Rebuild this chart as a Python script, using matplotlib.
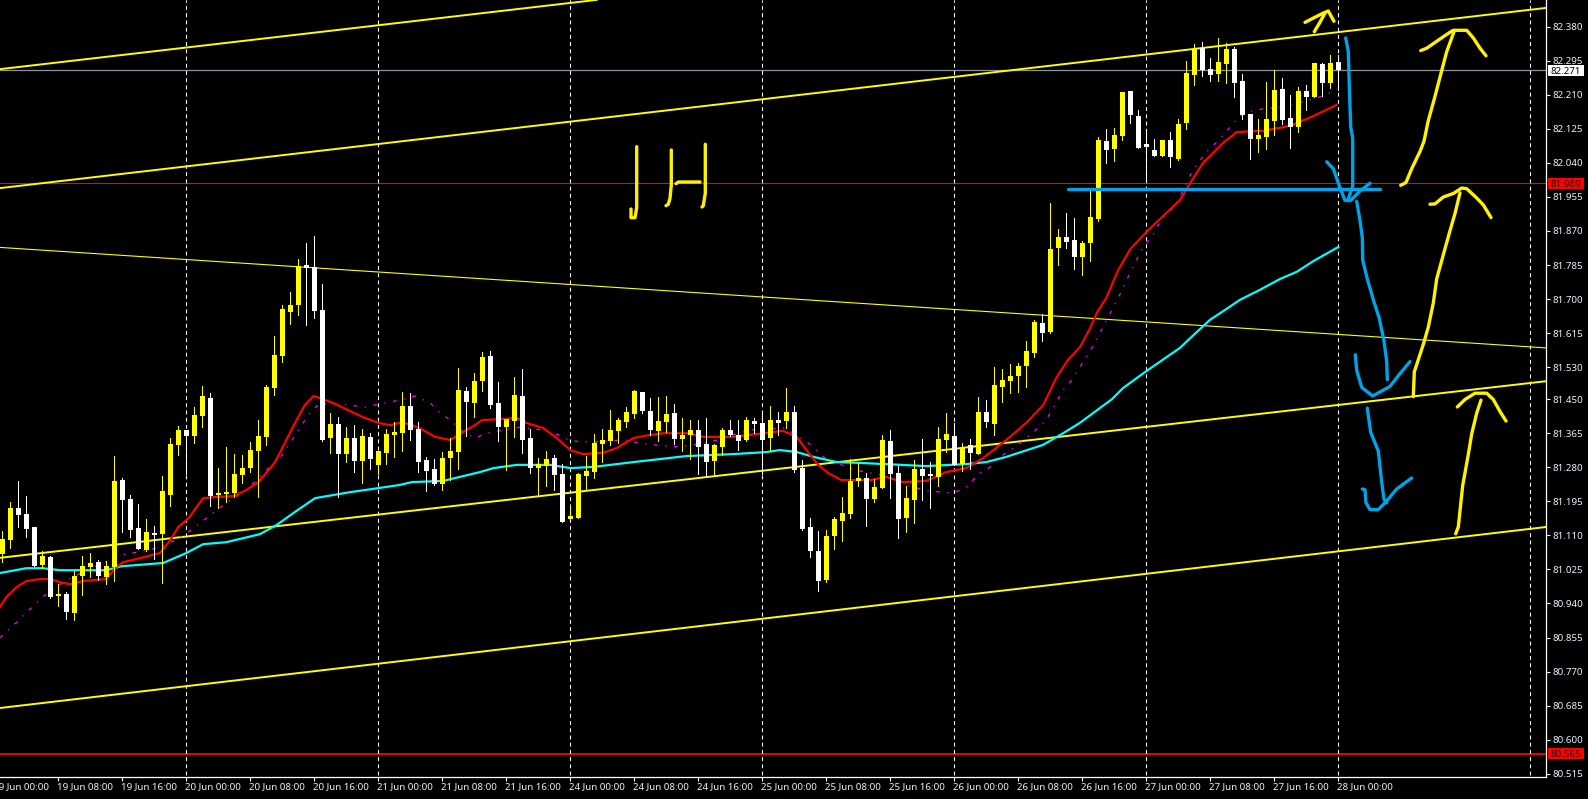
import matplotlib
matplotlib.use("Agg")
import matplotlib.pyplot as plt
from matplotlib.patches import Rectangle
from matplotlib.transforms import blended_transform_factory

plt.rcParams['font.family'] = ['Noto Sans', 'DejaVu Sans']

# ---- candles (H1), one entry per bar ----
open_ = [81.063,81.098,81.178,81.163,81.131,81.036,81.056,80.958,80.963,80.916,81.008,81.031,81.043,81.006,81.031,81.248,81.201,81.128,81.073,81.116,
81.113,81.211,81.336,81.373,81.358,81.408,81.453,81.211,81.213,81.216,81.261,81.278,81.321,81.356,81.478,81.558,81.668,81.685,81.785,81.780,
81.673,81.353,81.388,81.313,81.353,81.296,81.356,81.286,81.316,81.361,81.365,81.433,81.375,81.298,81.276,81.238,81.303,81.318,81.470,81.440,
81.495,81.558,81.440,81.380,81.395,81.458,81.353,81.278,81.283,81.303,81.263,81.151,81.153,81.258,81.268,81.338,81.346,81.371,81.393,81.413,
81.468,81.420,81.371,81.393,81.415,81.351,81.361,81.373,81.338,81.296,81.331,81.373,81.361,81.348,81.395,81.391,81.353,81.398,81.395,81.418,
81.278,81.131,81.071,80.998,81.108,81.146,81.163,81.246,81.253,81.201,81.228,81.346,81.266,81.153,81.198,81.276,81.263,81.256,81.348,81.358,
81.288,81.336,81.313,81.418,81.388,81.480,81.495,81.508,81.533,81.565,81.640,81.618,81.827,81.855,81.847,81.805,81.840,81.900,82.095,82.075,
82.107,82.219,82.157,82.087,82.072,82.057,82.097,82.050,82.140,82.259,82.327,82.274,82.262,82.287,82.324,82.244,82.162,82.100,82.105,82.145,
82.224,82.152,82.130,82.219,82.204,82.287,82.240,82.292]
high_ = [81.121,81.193,81.246,81.208,81.131,81.071,81.058,80.988,80.969,81.021,81.058,81.066,81.048,81.046,81.308,81.253,81.211,81.188,81.151,81.133,
81.258,81.353,81.383,81.373,81.430,81.483,81.465,81.278,81.331,81.313,81.311,81.343,81.398,81.485,81.608,81.685,81.718,81.800,81.840,81.857,
81.738,81.415,81.405,81.380,81.385,81.375,81.365,81.321,81.375,81.393,81.468,81.465,81.393,81.306,81.301,81.318,81.353,81.528,81.480,81.515,
81.568,81.570,81.493,81.400,81.505,81.525,81.375,81.303,81.321,81.311,81.288,81.186,81.266,81.308,81.363,81.375,81.423,81.403,81.430,81.473,
81.468,81.453,81.455,81.458,81.438,81.403,81.398,81.398,81.403,81.338,81.378,81.398,81.398,81.405,81.403,81.413,81.433,81.418,81.478,81.433,
81.298,81.153,81.121,81.123,81.156,81.206,81.301,81.291,81.266,81.251,81.361,81.373,81.283,81.233,81.298,81.351,81.293,81.380,81.415,81.391,
81.341,81.351,81.455,81.448,81.530,81.525,81.538,81.540,81.595,81.648,81.663,81.940,81.875,81.915,81.902,81.845,81.972,82.105,82.125,82.127,
82.217,82.219,82.172,82.122,82.100,82.097,82.117,82.150,82.294,82.337,82.342,82.302,82.352,82.339,82.329,82.262,82.162,82.150,82.242,82.272,
82.252,82.209,82.229,82.235,82.289,82.289,82.309,82.309]
low_ = [81.043,81.078,81.131,81.106,81.033,81.028,80.954,80.934,80.901,80.899,80.961,81.006,80.998,80.988,80.996,81.118,81.106,81.076,81.071,81.051,
80.991,81.183,81.311,81.263,81.341,81.380,81.183,81.178,81.193,81.206,81.241,81.268,81.206,81.336,81.460,81.543,81.638,81.660,81.635,81.653,
81.346,81.316,81.206,81.293,81.268,81.241,81.276,81.263,81.288,81.306,81.321,81.348,81.268,81.221,81.236,81.223,81.248,81.276,81.358,81.405,
81.470,81.428,81.346,81.273,81.356,81.316,81.266,81.211,81.233,81.223,81.143,81.151,81.153,81.226,81.253,81.293,81.336,81.341,81.380,81.403,
81.415,81.361,81.346,81.368,81.338,81.321,81.301,81.263,81.258,81.261,81.311,81.358,81.323,81.346,81.365,81.263,81.321,81.361,81.378,81.268,
81.123,81.056,80.971,80.993,81.076,81.096,81.153,81.233,81.133,81.193,81.228,81.203,81.103,81.118,81.141,81.198,81.178,81.233,81.318,81.286,
81.271,81.276,81.313,81.380,81.361,81.443,81.465,81.468,81.480,81.555,81.595,81.615,81.785,81.827,81.775,81.760,81.795,81.895,82.040,82.045,
82.097,82.140,82.077,81.997,82.057,82.057,82.030,82.047,82.125,82.235,82.257,82.244,82.244,82.240,82.204,82.150,82.050,82.067,82.075,82.110,
82.137,82.077,82.117,82.172,82.204,82.207,82.227,82.222]
close_ = [81.101,81.178,81.161,81.126,81.033,81.058,80.956,80.963,80.919,81.008,81.033,81.041,81.008,81.033,81.246,81.198,81.123,81.076,81.118,81.111,
81.221,81.338,81.373,81.358,81.410,81.458,81.208,81.216,81.218,81.263,81.278,81.323,81.358,81.480,81.560,81.675,81.685,81.783,81.778,81.670,
81.348,81.388,81.313,81.353,81.296,81.358,81.301,81.321,81.363,81.368,81.433,81.373,81.293,81.271,81.238,81.303,81.321,81.473,81.443,81.495,
81.555,81.435,81.380,81.400,81.460,81.348,81.278,81.288,81.301,81.261,81.143,81.158,81.263,81.271,81.341,81.348,81.373,81.398,81.418,81.470,
81.420,81.373,81.395,81.413,81.351,81.361,81.373,81.331,81.293,81.336,81.373,81.361,81.346,81.398,81.388,81.348,81.398,81.391,81.418,81.273,
81.126,81.071,80.996,81.108,81.151,81.166,81.246,81.253,81.201,81.231,81.348,81.263,81.151,81.203,81.276,81.258,81.258,81.351,81.363,81.286,
81.331,81.316,81.418,81.393,81.485,81.498,81.508,81.533,81.570,81.643,81.615,81.825,81.855,81.842,81.805,81.840,81.905,82.097,82.072,82.110,
82.217,82.160,82.077,82.080,82.057,82.097,82.055,82.137,82.264,82.324,82.272,82.259,82.292,82.324,82.240,82.160,82.100,82.110,82.150,82.222,
82.147,82.130,82.219,82.204,82.289,82.240,82.289,82.271]

# ---- moving averages: bar index, price ----
red_k = [-0.3,0.5,1.8,3,4.7,6,7.2,8.5,10.1,13,14.1,15.1,17.2,19.7,21,22,23.3,25.1,26.8,28.9,30.5,32,33.5,34.1,35.5,36.6,37.8,38.9,39.7,41.4,43.5,45.1,47,48.5,49.7,
50.9,52.6,54.1,56,57.6,58.9,60,62.2,64.3,65.5,67.6,69.3,71,72.6,75.1,76.8,78.9,80.1,82.6,85.5,87.6,91.4,94.3,97.6,
99.3,100.7,102,103.2,104.9,108.5,110.5,112.6,115.5,118,120.5,122.6,125.5,128,130.1,131.8,133.2,134.7,136,136.8,138,139.5,
141,143,145.5,147.2,148.5,150.1,152.6,154.3,157.6,160.9,163.9,166.8]
red_p = [80.931,80.956,80.981,80.996,81.001,81.001,80.993,80.988,80.996,81.001,81.028,81.043,81.053,81.066,81.098,81.131,81.153,81.203,81.206,81.208,81.223,81.243,81.278,81.293,81.348,81.391,81.435,81.458,81.453,81.440,81.420,81.405,81.391,81.385,81.391,
81.388,81.373,81.356,81.348,81.368,81.383,81.398,81.400,81.403,81.391,81.378,81.353,81.323,81.313,81.316,81.328,81.353,81.358,81.365,81.365,81.356,81.356,81.363,81.371,
81.356,81.318,81.286,81.266,81.248,81.248,81.256,81.243,81.246,81.268,81.278,81.303,81.348,81.391,81.435,81.505,81.548,81.580,81.628,81.665,81.703,81.773,
81.825,81.867,81.915,81.947,81.990,82.040,82.090,82.117,82.120,82.132,82.157,82.185]

cyan_k = [-0.3,3,5.1,7.2,13,14.9,20.1,23,25.1,28,32.2,34.3,36.4,39.1,43.5,47,49.7,51.2,55.1,59.7,61.4,64.3,68.5,71,73.9,78.9,85.5,91.4,95.5,97.2,99.3,
101.4,104.3,107.2,115.5,120.5,123,125.5,130.1,132.6,134.7,138.7,140.1,143,147.2,148.9,150.95,153,154.7,157.2,159.7,161.8,163.9,167]
cyan_p = [81.016,81.028,81.028,81.023,81.023,81.033,81.041,81.066,81.088,81.093,81.113,81.136,81.166,81.203,81.218,81.228,81.236,81.243,81.246,81.268,81.278,81.286,81.286,81.278,81.281,81.293,81.308,81.313,81.318,81.323,81.318,
81.306,81.293,81.291,81.283,81.288,81.293,81.306,81.336,81.365,81.391,81.450,81.478,81.520,81.578,81.610,81.648,81.675,81.698,81.723,81.750,81.768,81.795,81.830]

magenta_k = [-0.3,1.4,4.9,7.6,10.5,14.9,16.8,19.3,22,24.1,26,28,30.5,33,34.7,36.4,37.4,38.7,39.7,42.6,45.3,47.2,49.7,
51.6,53.5,54.5,56.4,57.4,59.1,60.5,62.6,64.7,67.6,69.5,71,73.9,77.2,79.7,82.6,84.7,87.2,89.3,91.4,93.5,97.6,
99.3,101.4,102.6,104.3,105.9,107.2,109.7,113,115.5,118.9,120.5,122.2,123.5,125.1,126.4,128.5,130.5,132.6,133.5,134.7,136.4,137.2,138.2,139.5,140.95,
142.6,143.7,144.7,146.8,148.5,149.3,150.5,151.8,153.5,154.5,155.5,157.6,160.5,163,165.1,166.8]
magenta_p = [80.854,80.886,80.954,80.993,81.023,81.061,81.068,81.078,81.101,81.131,81.161,81.191,81.223,81.273,81.303,81.353,81.385,81.423,81.438,81.438,81.430,81.438,81.448,
81.458,81.440,81.420,81.391,81.371,81.353,81.365,81.373,81.380,81.373,81.361,81.346,81.343,81.348,81.341,81.333,81.331,81.338,81.348,81.361,81.373,81.378,
81.361,81.331,81.306,81.291,81.278,81.271,81.261,81.236,81.221,81.216,81.231,81.266,81.281,81.311,81.328,81.361,81.398,81.473,81.493,81.530,81.585,81.615,81.653,81.703,81.765,
81.830,81.855,81.892,81.940,82.010,82.035,82.067,82.092,82.130,82.152,82.167,82.175,82.180,82.195,82.207,82.224]

# ---- trend lines: (start bar, start price, end bar, end price) ----
thick_trends = [(-0.3,82.274,74.3,82.447),(-0.3,81.977,193,82.427),(-0.3,81.054,193,81.495),(-0.3,80.679,193,81.131)]
thin_trends = [(-0.3,81.829,193,81.578)]

# ---- horizontal levels, session lines, axis labels ----
level_last = 82.271
level_upper = 81.989
level_lower = 80.565
day_bars = [23,47,71,95,119,143,167,191]
time_bars = [-1,7,15,23,31,39,47,55,63,71,79,87,95,103,111,119,127,135,143,151,159,167]
time_labels = ["19 Jun 00:00","19 Jun 08:00","19 Jun 16:00","20 Jun 00:00","20 Jun 08:00","20 Jun 16:00",
               "21 Jun 00:00","21 Jun 08:00","21 Jun 16:00","24 Jun 00:00","24 Jun 08:00","24 Jun 16:00",
               "25 Jun 00:00","25 Jun 08:00","25 Jun 16:00","26 Jun 00:00","26 Jun 08:00","26 Jun 16:00",
               "27 Jun 00:00","27 Jun 08:00","27 Jun 16:00","28 Jun 00:00"]
price_ticks = [82.380,82.295,82.210,82.125,82.040,81.955,81.870,81.785,81.700,81.615,81.530,81.450,
               81.365,81.280,81.195,81.110,81.025,80.940,80.855,80.770,80.685,80.600,80.515]

# ---- freehand pen strokes, on a canvas the size of the picture ----
yellow_strokes = [
 [(1305,22.4),(1315,17.2),(1323.3,13.1),(1328.3,11),(1331.7,17.2),(1334,21.3)],
 [(1314.3,31.7),(1319.3,23.4),(1325,13.1)],
 [(1400.7,185.3),(1406,182.5),(1411.7,168.7),(1420,151.5),(1424,141.2),(1428.3,120.5),(1435,96.4),(1441.7,70.6),(1446.7,51.7),(1454,31.7)],
 [(1420.7,50.6),(1426.7,48.2),(1436.7,41.3),(1446.7,34.4),(1453.3,30.3),(1466.7,30.3),(1473.3,37.9),(1480,48.2),(1486,55.8)],
 [(1413.3,396.7),(1414.3,371.9),(1423.3,344.4),(1428.3,327.1),(1433.3,303),(1436.7,278.9),(1443.3,254.8),(1450,230.7),(1455,213.5),(1460,192.8)],
 [(1430,204.2),(1435,203.9),(1443.3,197),(1453.3,193.5),(1461.7,188),(1466.7,188.7),(1476.7,198),(1483.3,204.9),(1491,217.6)],
 [(1455.7,533.8),(1458.3,526.9),(1462.7,485.5),(1468.3,454.5),(1471.7,433.9),(1476.7,413.2),(1481,400.1)],
 [(1457.3,407),(1465,399.5),(1475,393.2),(1486.7,393.2),(1493.3,399.5),(1500,411.5),(1506,421)],
 [(636.7,146.7),(636.7,207.7),(635,217.7),(631,217.7),(631,209)],
 [(671.3,150),(671.3,185),(670,198.3),(668.3,204.3),(666,205.7)],
 [(676,183.7),(678.3,182),(700,182)],
 [(705.3,144.3),(705.3,193.3),(703.3,205.7),(702,207)],
]
blue_strokes = [
 [(1068.3,188.6),(1380,188.6)],
 [(1345.7,37.9),(1348.3,51.7),(1349.3,86.1),(1350.7,127.4),(1352.7,137.7),(1352.7,186),(1347.7,200.8)],
 [(1326.7,161.8),(1333.3,168.7),(1340,187.7),(1345,200.4),(1350.7,200.4),(1360,191.1),(1370,183.2)],
 [(1356.7,201.4),(1360,220.4),(1362.3,237.6),(1362.7,260),(1367.3,278.9),(1373.3,299.6),(1379.3,318.5),(1384,340.9),(1386.7,361.6),(1387.3,379.8)],
 [(1355.3,354.7),(1356.7,370.2),(1361.7,387.4),(1372.7,396),(1390,386.4),(1400,373.6),(1410,361.6)],
 [(1367.3,408.1),(1370.7,432.2),(1378.3,451.1),(1381.7,482.1),(1384,499.3),(1386.7,502.8)],
 [(1362.3,489),(1365,489.7),(1366,502.8),(1370,509.6),(1378.3,509.6),(1386.7,501),(1396.7,489),(1411.7,478)],
]

W, H = 1588, 799
fig = plt.figure(figsize=(W/100, H/100), dpi=100, facecolor='black')
ax = fig.add_axes([0, 1-777.3/H, 1546.3/W, 777.3/H], facecolor='black')
ax.set_xlim(-0.29, 193)
ax.set_ylim(80.506, 82.4467)

GOLD = '#FFFF00'

# levels and session lines
ax.axhline(level_last, color='#8a929c', lw=0.9, zorder=1)
ax.axhline(level_upper, color='#ff0000', lw=0.8, zorder=1)
ax.axhline(level_lower, color='#ff0000', lw=1.3, zorder=1)
for b in day_bars:
    ax.axvline(b, color='white', lw=0.8, ls=(0, (3.5, 3)), ymin=0.003, zorder=1.2)

for x0, y0, x1, y1 in thick_trends:
    ax.plot([x0, x1], [y0, y1], color=GOLD, lw=1.4, zorder=1.5)
for x0, y0, x1, y1 in thin_trends:
    ax.plot([x0, x1], [y0, y1], color=GOLD, lw=0.8, zorder=1.5)

# moving averages
ax.plot(magenta_k, magenta_p, color='#ff00ff', lw=0.9, ls=(0, (3, 6, 1, 6)), zorder=2)
ax.plot(cyan_k, cyan_p, color='#00ffff', lw=1.6, zorder=2.1)
ax.plot(red_k, red_p, color='#ff0000', lw=1.6, zorder=2.2)

# candles
for k, (o, h, l, c) in enumerate(zip(open_, high_, low_, close_)):
    col = GOLD if c >= o else 'white'
    ax.vlines(k, l, h, color=col, lw=0.7, zorder=3, antialiased=False)
    ax.bar(k, max(abs(c-o), 0.004), bottom=min(o, c), width=0.66, color=col, linewidth=0, zorder=4, antialiased=False)

# axes
for side in ('top', 'left'):
    ax.spines[side].set_visible(False)
for side in ('right', 'bottom'):
    ax.spines[side].set_color('white')
    ax.spines[side].set_linewidth(0.9)
ax.yaxis.tick_right()
ax.set_yticks(price_ticks)
ax.set_yticklabels([f"{v:.3f}" for v in price_ticks])
ax.tick_params(axis='y', colors='#e8f2ff', length=2.6, width=0.8, pad=1.6, labelsize=7)
ax.set_xticks([b for b in time_bars if b >= 0])
ax.set_xticklabels([])
ax.tick_params(axis='x', colors='white', length=2.6, width=0.8)
for b, lab in zip(time_bars, time_labels):
    ax.annotate(lab, xy=(b, 0), xycoords=('data', 'axes fraction'), xytext=(-0.7, -6.8),
                textcoords='offset points', color='#e8f2ff', fontsize=7, ha='left', va='center',
                annotation_clip=False)

# price tags beside the axis
tr = blended_transform_factory(ax.transAxes, ax.transData)
for val, bg, txt in ((level_last, 'white', 'black'), (level_upper, '#ff0000', '#300000'), (level_lower, '#ff0000', '#300000')):
    ax.add_patch(Rectangle((1.0011, val-0.0137), 0.0233, 0.0274, transform=tr, fc=bg, ec='none', clip_on=False, zorder=6))
    ax.text(1.01275, val, f"{val:.3f}", transform=tr, ha='center', va='center_baseline', fontsize=7, color=txt,
            clip_on=False, zorder=7)

# pen strokes on top
canvas = fig.add_axes([0, 0, 1, 1], facecolor='none')
canvas.set_xlim(0, W)
canvas.set_ylim(H, 0)
canvas.axis('off')
for s in yellow_strokes:
    canvas.plot(*zip(*s), color='#FFF200', lw=2.4, solid_capstyle='round', solid_joinstyle='round')
for s in blue_strokes:
    canvas.plot(*zip(*s), color='#00A2E8', lw=2.4, solid_capstyle='round', solid_joinstyle='round')

fig.savefig('out.png', dpi=100, facecolor='black')
